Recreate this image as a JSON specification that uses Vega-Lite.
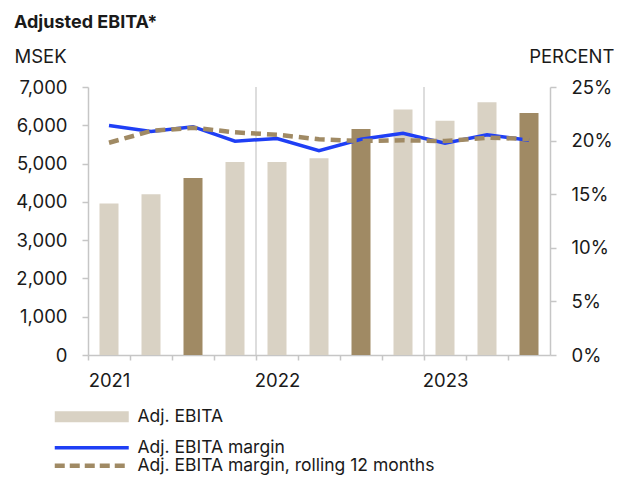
{
  "$schema": "https://vega.github.io/schema/vega-lite/v6.json",
  "width": 462,
  "height": 268,
  "padding": {"left": 14, "top": 14, "right": 0, "bottom": 0},
  "background": "white",
  "config": {
    "font": "Inter",
    "view": {"stroke": null},
    "axis": {"labelFont": "Inter", "titleFont": "Inter", "labelFontSize": 18.5, "titleFontSize": 18.5, "labelColor": "#1a1a1a", "titleColor": "#1a1a1a", "titleFontWeight": "normal", "domainColor": "#c6c6c6", "domainWidth": 1.5, "tickColor": "#c6c6c6", "tickWidth": 1.5},
    "legend": {"labelFont": "Inter", "labelFontSize": 17.5, "labelColor": "#1a1a1a"}
  },
  "title": {"text": "Adjusted EBITA*", "anchor": "start", "fontSize": 18, "fontWeight": "bold", "color": "#1a1a1a", "font": "Inter", "offset": 15},
  "data": {"values": [
    {"quarter": "2021 Q1", "kind": "bar", "value": 3960, "series": "Adj. EBITA"},
    {"quarter": "2021 Q2", "kind": "bar", "value": 4200, "series": "Adj. EBITA"},
    {"quarter": "2021 Q3", "kind": "bar", "value": 4620, "series": "Adj. EBITA (Q3)"},
    {"quarter": "2021 Q4", "kind": "bar", "value": 5040, "series": "Adj. EBITA"},
    {"quarter": "2022 Q1", "kind": "bar", "value": 5040, "series": "Adj. EBITA"},
    {"quarter": "2022 Q2", "kind": "bar", "value": 5140, "series": "Adj. EBITA"},
    {"quarter": "2022 Q3", "kind": "bar", "value": 5900, "series": "Adj. EBITA (Q3)"},
    {"quarter": "2022 Q4", "kind": "bar", "value": 6410, "series": "Adj. EBITA"},
    {"quarter": "2023 Q1", "kind": "bar", "value": 6120, "series": "Adj. EBITA"},
    {"quarter": "2023 Q2", "kind": "bar", "value": 6600, "series": "Adj. EBITA"},
    {"quarter": "2023 Q3", "kind": "bar", "value": 6320, "series": "Adj. EBITA (Q3)"},
    {"quarter": "2021 Q1", "kind": "margin", "value": 21.4, "series": "Adj. EBITA margin"},
    {"quarter": "2021 Q2", "kind": "margin", "value": 20.85, "series": "Adj. EBITA margin"},
    {"quarter": "2021 Q3", "kind": "margin", "value": 21.3, "series": "Adj. EBITA margin"},
    {"quarter": "2021 Q4", "kind": "margin", "value": 19.95, "series": "Adj. EBITA margin"},
    {"quarter": "2022 Q1", "kind": "margin", "value": 20.2, "series": "Adj. EBITA margin"},
    {"quarter": "2022 Q2", "kind": "margin", "value": 19.05, "series": "Adj. EBITA margin"},
    {"quarter": "2022 Q3", "kind": "margin", "value": 20.12, "series": "Adj. EBITA margin"},
    {"quarter": "2022 Q4", "kind": "margin", "value": 20.68, "series": "Adj. EBITA margin"},
    {"quarter": "2023 Q1", "kind": "margin", "value": 19.75, "series": "Adj. EBITA margin"},
    {"quarter": "2023 Q2", "kind": "margin", "value": 20.55, "series": "Adj. EBITA margin"},
    {"quarter": "2023 Q3", "kind": "margin", "value": 20.03, "series": "Adj. EBITA margin"},
    {"quarter": "2021 Q1", "kind": "rolling", "value": 19.8, "series": "Adj. EBITA margin, rolling 12 months"},
    {"quarter": "2021 Q2", "kind": "rolling", "value": 20.9, "series": "Adj. EBITA margin, rolling 12 months"},
    {"quarter": "2021 Q3", "kind": "rolling", "value": 21.2, "series": "Adj. EBITA margin, rolling 12 months"},
    {"quarter": "2021 Q4", "kind": "rolling", "value": 20.77, "series": "Adj. EBITA margin, rolling 12 months"},
    {"quarter": "2022 Q1", "kind": "rolling", "value": 20.55, "series": "Adj. EBITA margin, rolling 12 months"},
    {"quarter": "2022 Q2", "kind": "rolling", "value": 20.12, "series": "Adj. EBITA margin, rolling 12 months"},
    {"quarter": "2022 Q3", "kind": "rolling", "value": 19.96, "series": "Adj. EBITA margin, rolling 12 months"},
    {"quarter": "2022 Q4", "kind": "rolling", "value": 20.03, "series": "Adj. EBITA margin, rolling 12 months"},
    {"quarter": "2023 Q1", "kind": "rolling", "value": 19.96, "series": "Adj. EBITA margin, rolling 12 months"},
    {"quarter": "2023 Q2", "kind": "rolling", "value": 20.27, "series": "Adj. EBITA margin, rolling 12 months"},
    {"quarter": "2023 Q3", "kind": "rolling", "value": 20.15, "series": "Adj. EBITA margin, rolling 12 months"},
    {"quarter": "2022 Q1", "kind": "yearstart"},
    {"quarter": "2023 Q1", "kind": "yearstart"}
  ]},
  "layer": [
    {
      "transform": [{"filter": "datum.kind === 'bar'"}],
      "mark": {"type": "bar", "size": 19},
      "encoding": {
        "x": {"field": "quarter", "type": "ordinal", "sort": null, "scale": {"paddingInner": 0, "paddingOuter": 0},
          "axis": {"title": null, "tickOffset": -21, "labelOffset": 21, "tickSize": 5, "labelAngle": 0, "labelPadding": 11,
            "labelExpr": "substring(datum.value, 5) === 'Q1' ? substring(datum.value, 0, 4) : ''", "grid": false}},
        "y": {"field": "value", "type": "quantitative", "scale": {"domain": [0, 7000]},
          "axis": {"orient": "left", "values": [0, 1000, 2000, 3000, 4000, 5000, 6000, 7000], "format": ",.0f", "grid": false, "tickSize": 6, "labelPadding": 15,
            "title": "MSEK", "titleAngle": 0, "titleAlign": "left", "titleBaseline": "alphabetic", "titleX": -74, "titleY": -25}},
        "color": {"field": "series", "type": "nominal",
          "scale": {"domain": ["Adj. EBITA", "Adj. EBITA margin", "Adj. EBITA margin, rolling 12 months", "Adj. EBITA (Q3)"], "range": ["#d9d2c4", "#1f3ff5", "#a08a64", "#a08a64"]},
          "legend": {"title": null, "orient": "none", "legendX": -5, "legendY": 321, "direction": "vertical", "padding": 0,
            "symbolType": "M-5,0H5", "symbolSize": 219, "symbolStrokeWidth": 0, "rowPadding": -3, "labelOffset": 37, "labelFontSize": 17.5, "labelLimit": 500,
            "values": ["Adj. EBITA", "Adj. EBITA margin", "Adj. EBITA margin, rolling 12 months"],
            "encode": {"symbols": {"update": {
              "stroke": {"signal": "scale('color', datum.value)"},
              "fill": {"value": "transparent"},
              "opacity": {"value": 1},
              "strokeCap": {"value": "butt"},
              "strokeWidth": {"signal": "datum.value === 'Adj. EBITA' ? 11 : (datum.value === 'Adj. EBITA margin' ? 3.5 : 4.5)"},
              "strokeDash": {"signal": "datum.value === 'Adj. EBITA margin, rolling 12 months' ? [10, 5] : [1, 0]"}}}}}}
      }
    },
    {
      "transform": [{"filter": "datum.kind === 'yearstart'"}],
      "mark": {"type": "rule", "color": "#c6c6c6", "strokeWidth": 1.2, "xOffset": -21},
      "encoding": {
        "x": {"field": "quarter", "type": "ordinal", "sort": null}
      }
    },
    {
      "transform": [{"filter": "datum.kind === 'margin'"}],
      "mark": {"type": "line", "strokeWidth": 3.5},
      "encoding": {
        "x": {"field": "quarter", "type": "ordinal", "sort": null},
        "y": {"field": "value", "type": "quantitative", "scale": {"domain": [0, 25]},
          "axis": {"orient": "right", "values": [0, 5, 10, 15, 20, 25], "labelExpr": "datum.value + '%'", "grid": false, "tickSize": 6, "labelPadding": 15,
            "title": "PERCENT", "titleAngle": 0, "titleAlign": "right", "titleBaseline": "alphabetic", "titleX": 64, "titleY": -25}},
        "color": {"field": "series", "type": "nominal"}
      }
    },
    {
      "transform": [{"filter": "datum.kind === 'rolling'"}],
      "mark": {"type": "line", "strokeWidth": 4.5, "strokeDash": [10, 6]},
      "encoding": {
        "x": {"field": "quarter", "type": "ordinal", "sort": null},
        "y": {"field": "value", "type": "quantitative", "scale": {"domain": [0, 25]}, "axis": null},
        "color": {"field": "series", "type": "nominal"}
      }
    }
  ],
  "resolve": {"scale": {"y": "independent"}}
}
